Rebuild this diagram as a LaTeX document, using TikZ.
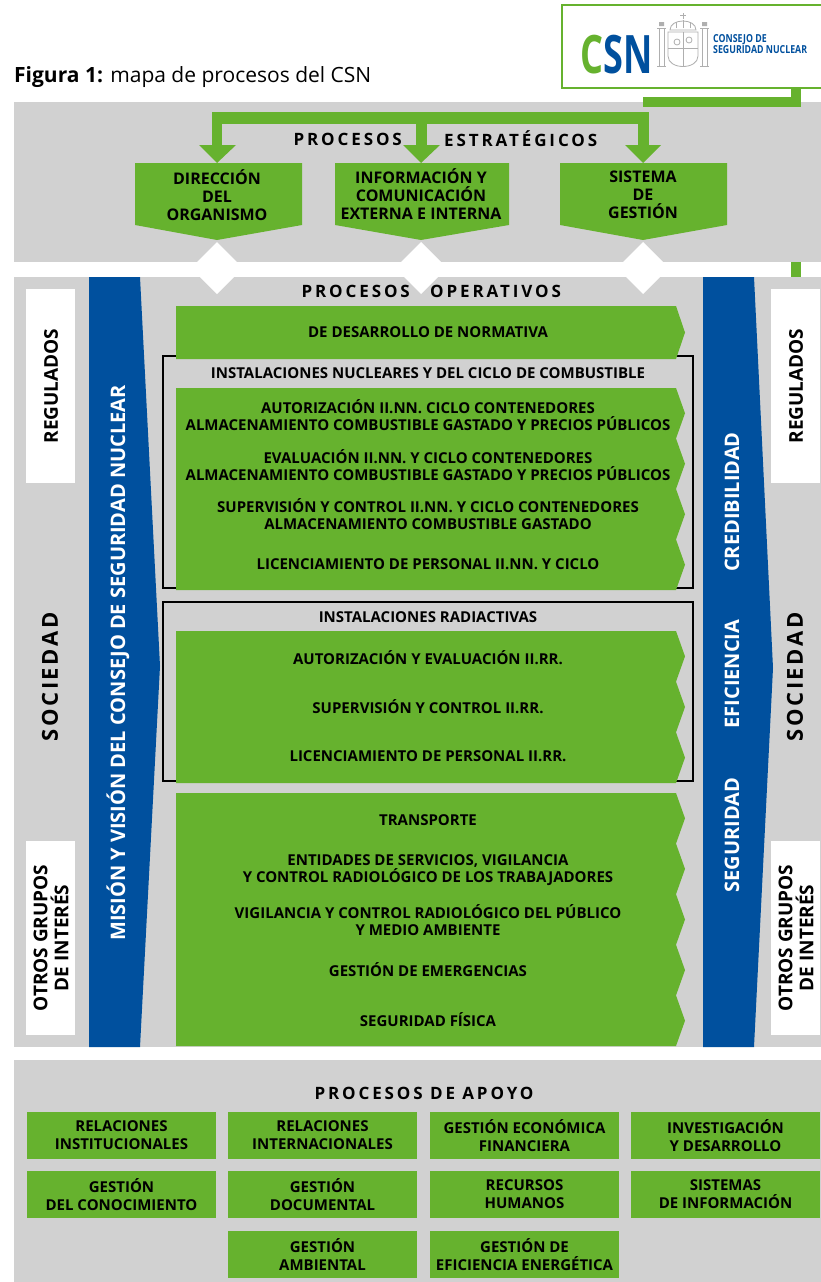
\documentclass[tikz,border=0pt]{standalone}
\usepackage{fontspec}
\setmainfont{Open Sans}
\newfontfamily\spacedA[LetterSpace=17]{Open Sans}
\newfontfamily\spacedS[LetterSpace=12]{Open Sans}
\newfontfamily\condA[FakeStretch=0.68]{Open Sans}
\newfontfamily\condB[FakeStretch=0.8]{Open Sans}
\definecolor{csngreen}{RGB}{102,178,46}
\definecolor{csnblue}{RGB}{0,80,158}
\definecolor{csngray}{RGB}{209,209,209}
\definecolor{crestgray}{RGB}{175,175,175}
\newcommand\zigblock[3]{%
  \fill[csngreen] (176,#1) -- (676,#1)
    \foreach \i in {1,...,#2}{ -- (685,{#1+(\i-0.5)*#3}) -- (676,{#1+\i*#3}) }
    -- (176,{#1+#2*#3}) -- cycle;}
\begin{document}
\begin{tikzpicture}[x=1pt,y=-1pt,
  optxt/.style={font=\bfseries\fontsize{15}{17}\selectfont, align=center, inner sep=0pt, text=black},
  strtxt/.style={font=\bfseries\fontsize{16}{18}\selectfont, align=center, inner sep=0pt, text=black},
  supbox/.style={fill=csngreen, minimum width=189pt, minimum height=47pt, inner sep=0pt, align=center,
                 font=\bfseries\fontsize{15}{18}\selectfont, text=black},
  whitebox/.style={fill=white, minimum width=49pt, minimum height=194pt, inner sep=0pt},
  sidetxt/.style={rotate=90, font=\bfseries\fontsize{19}{21}\selectfont, align=center, inner sep=0pt, text=black},
  soctxt/.style={rotate=90, font=\spacedS\bfseries\fontsize{22}{24}\selectfont, inner sep=0pt, text=black},
  bluetxt/.style={rotate=90, font=\bfseries\fontsize{20}{22}\selectfont, inner sep=0pt, text=white},
  headtxt/.style={font=\spacedA\bfseries\fontsize{17}{20}\selectfont, inner sep=0pt, text=black},
  frame/.style={draw=black, line width=1.5pt},
  diam/.style={fill=white}]
\useasboundingbox (0,0) rectangle (821,1282);
\fill[white] (0,0) rectangle (821,1282);

% ---------- title ----------
\node[anchor=base west, inner sep=0pt, font=\fontsize{21}{24}\selectfont] (title) at (14,82)
  {\textbf{Figura 1:} mapa de procesos del CSN};

% ---------- logo ----------
\fill[white] (562,5) rectangle (821,88);
\draw[csngreen, line width=2.5pt] (823,5) -- (562,5) -- (562,88) -- (823,88);
\node[anchor=base west, inner sep=0pt, font=\condA\bfseries\fontsize{53}{53}\selectfont] (csn) at (580,73)
  {\textcolor{csngreen}{C}\textcolor{csnblue}{SN}};
\node[anchor=north west, inner sep=0pt, align=left, text=csnblue,
      font=\condB\bfseries\fontsize{11}{11.5}\selectfont] (csnname) at (713,34)
  {CONSEJO DE\\SEGURIDAD NUCLEAR};
% simplified crest
\begin{scope}[crestgray, line width=0.8pt]
  \draw (670,30) .. controls (670,18) and (696,18) .. (696,30) -- cycle;
  \draw (676,28) -- (676,22) (683,28) -- (683,20) (690,28) -- (690,22);
  \draw (683,13) -- (683,19) (680,15.5) -- (686,15.5);
  \draw (668,32) -- (698,32) -- (698,56) .. controls (698,70) and (668,70) .. (668,56) -- cycle;
  \draw (683,32) -- (683,67) (668,48) -- (698,48);
  \draw (677,42) circle (3) (689,40) circle (3);
  \draw (659,28) rectangle (664,66) (702,28) rectangle (707,66);
  \draw (657,28) -- (666,28) (700,28) -- (709,28) (657,66) -- (666,66) (700,66) -- (709,66);
  \fill (659,22) rectangle (664,26) (702,22) rectangle (707,26);
\end{scope}

% ---------- green line from logo (behind gray) ----------
\fill[csngreen] (791,88) rectangle (801,278);

% ---------- gray blocks ----------
\fill[csngray] (14,102) rectangle (821,262);
\fill[csngray] (14,277) rectangle (821,1047);
\fill[csngray] (14,1060) rectangle (821,1282);

% ---------- strategic connectors ----------
\fill[csngreen] (791,88) rectangle (801,107);
\fill[csngreen] (643,97) rectangle (801,107);
\fill[csngreen] (212,112) rectangle (649,124);
\fill[csngreen] (212,112) rectangle (222,147);
\fill[csngreen] (416,112) rectangle (427,147);
\fill[csngreen] (638,112) rectangle (649,147);
\fill[csngreen] (199,145) -- (236,145) -- (217,163) -- cycle;
\fill[csngreen] (403,145) -- (440,145) -- (421,163) -- cycle;
\fill[csngreen] (625,145) -- (661,145) -- (643,163) -- cycle;

\node[headtxt, anchor=east] (pe1) at (402,139) {PROCESOS};
\node[headtxt, anchor=west] (pe2) at (444,139) {ESTRATÉGICOS};

% ---------- strategic boxes ----------
\fill[csngreen] (135,163) -- (302,163) -- (302,225) -- (217,240) -- (135,225) -- cycle;
\fill[csngreen] (335,163) -- (509,163) -- (509,225) -- (421,240) -- (335,225) -- cycle;
\fill[csngreen] (560,163) -- (727,163) -- (727,225) -- (643,240) -- (560,225) -- cycle;
\node[strtxt] (s1) at (217,195) {DIRECCIÓN\\DEL\\ORGANISMO};
\node[strtxt] (s2) at (421,194) {INFORMACIÓN Y\\COMUNICACIÓN\\EXTERNA E INTERNA};
\node[strtxt] (s3) at (643,195) {SISTEMA\\DE\\GESTIÓN};

% ---------- diamonds ----------
\fill[diam] (217,242) -- (243,268) -- (217,294) -- (191,268) -- cycle;
\fill[diam] (421,242) -- (447,268) -- (421,294) -- (395,268) -- cycle;
\fill[diam] (643,242) -- (669,268) -- (643,294) -- (617,268) -- cycle;

\node[headtxt, anchor=east] (po1) at (410,291) {PROCESOS};
\node[headtxt, anchor=west] (po2) at (430,291) {OPERATIVOS};

% ---------- side white boxes ----------
\node[whitebox] (wl1) at (50.5,386) {};
\node[whitebox] (wr1) at (795.5,386) {};
\node[whitebox] (wl2) at (50.5,938) {};
\node[whitebox] (wr2) at (795.5,938) {};
\node[sidetxt] (reg1) at (51,386) {REGULADOS};
\node[sidetxt] (reg2) at (796,386) {REGULADOS};
\node[sidetxt] (otr1) at (51,938) {OTROS GRUPOS\\DE INTERÉS};
\node[sidetxt] (otr2) at (796,938) {OTROS GRUPOS\\DE INTERÉS};
\node[soctxt] (soc1) at (50,677) {SOCIEDAD};
\node[soctxt] (soc2) at (795,677) {SOCIEDAD};

% ---------- blue chevrons ----------
\fill[csnblue] (89,277) -- (140,277) -- (160,666) -- (140,1047) -- (89,1047) -- cycle;
\fill[csnblue] (703,277) -- (754,277) -- (773,668) -- (754,1047) -- (703,1047) -- cycle;
\node[bluetxt] (mision) at (118,663) {MISIÓN Y VISIÓN DEL CONSEJO DE SEGURIDAD NUCLEAR};
\node[bluetxt] (cred) at (732,502) {CREDIBILIDAD};
\node[bluetxt] (efic) at (732,674) {EFICIENCIA};
\node[bluetxt] (segu) at (732,835) {SEGURIDAD};

% ---------- frames ----------
\draw[frame] (163,356) rectangle (693,588);
\draw[frame] (163,602) rectangle (693,781);

% ---------- operative green blocks ----------
\zigblock{306}{1}{53}
\zigblock{388}{4}{50.5}
\zigblock{631}{3}{50.67}
\zigblock{793}{5}{50.6}

\node[optxt] (o1) at (428,332) {DE DESARROLLO DE NORMATIVA};
\node[optxt] (f1) at (428,373) {INSTALACIONES NUCLEARES Y DEL CICLO DE COMBUSTIBLE};
\node[optxt] (o2) at (428,415) {AUTORIZACIÓN II.NN. CICLO CONTENEDORES\\ALMACENAMIENTO COMBUSTIBLE GASTADO Y PRECIOS PÚBLICOS};
\node[optxt] (o3) at (428,465) {EVALUACIÓN II.NN. Y CICLO CONTENEDORES\\ALMACENAMIENTO COMBUSTIBLE GASTADO Y PRECIOS PÚBLICOS};
\node[optxt] (o4) at (428,514) {SUPERVISIÓN Y CONTROL II.NN. Y CICLO CONTENEDORES\\ALMACENAMIENTO COMBUSTIBLE GASTADO};
\node[optxt] (o5) at (428,564) {LICENCIAMIENTO DE PERSONAL II.NN. Y CICLO};
\node[optxt] (f2) at (428,617) {INSTALACIONES RADIACTIVAS};
\node[optxt] (o6) at (428,658) {AUTORIZACIÓN Y EVALUACIÓN II.RR.};
\node[optxt] (o7) at (428,707) {SUPERVISIÓN Y CONTROL II.RR.};
\node[optxt] (o8) at (428,756) {LICENCIAMIENTO DE PERSONAL II.RR.};
\node[optxt] (o9) at (428,820) {TRANSPORTE};
\node[optxt] (o10) at (428,870) {ENTIDADES DE SERVICIOS, VIGILANCIA\\Y CONTROL RADIOLÓGICO DE LOS TRABAJADORES};
\node[optxt] (o11) at (428,920) {VIGILANCIA Y CONTROL RADIOLÓGICO DEL PÚBLICO\\Y MEDIO AMBIENTE};
\node[optxt] (o12) at (428,970) {GESTIÓN DE EMERGENCIAS};
\node[optxt] (o13) at (428,1020) {SEGURIDAD FÍSICA};

% ---------- support processes ----------
\node[headtxt] (pa) at (424,1093) {PROCESOS DE APOYO};
\node[supbox] (a1) at (121.5,1135.5) {RELACIONES\\INSTITUCIONALES};
\node[supbox] (a2) at (322.5,1135.5) {RELACIONES\\INTERNACIONALES};
\node[supbox] (a3) at (524.5,1135.5) {GESTIÓN ECONÓMICA\\FINANCIERA};
\node[supbox] (a4) at (725.5,1135.5) {INVESTIGACIÓN\\Y DESARROLLO};
\node[supbox] (a5) at (121.5,1194.5) {GESTIÓN\\DEL CONOCIMIENTO};
\node[supbox] (a6) at (322.5,1194.5) {GESTIÓN\\DOCUMENTAL};
\node[supbox] (a7) at (524.5,1194.5) {RECURSOS\\HUMANOS};
\node[supbox] (a8) at (725.5,1194.5) {SISTEMAS\\DE INFORMACIÓN};
\node[supbox] (a9) at (322.5,1254.5) {GESTIÓN\\AMBIENTAL};
\node[supbox] (a10) at (524.5,1254.5) {GESTIÓN DE\\EFICIENCIA ENERGÉTICA};
\end{tikzpicture}
\end{document}
